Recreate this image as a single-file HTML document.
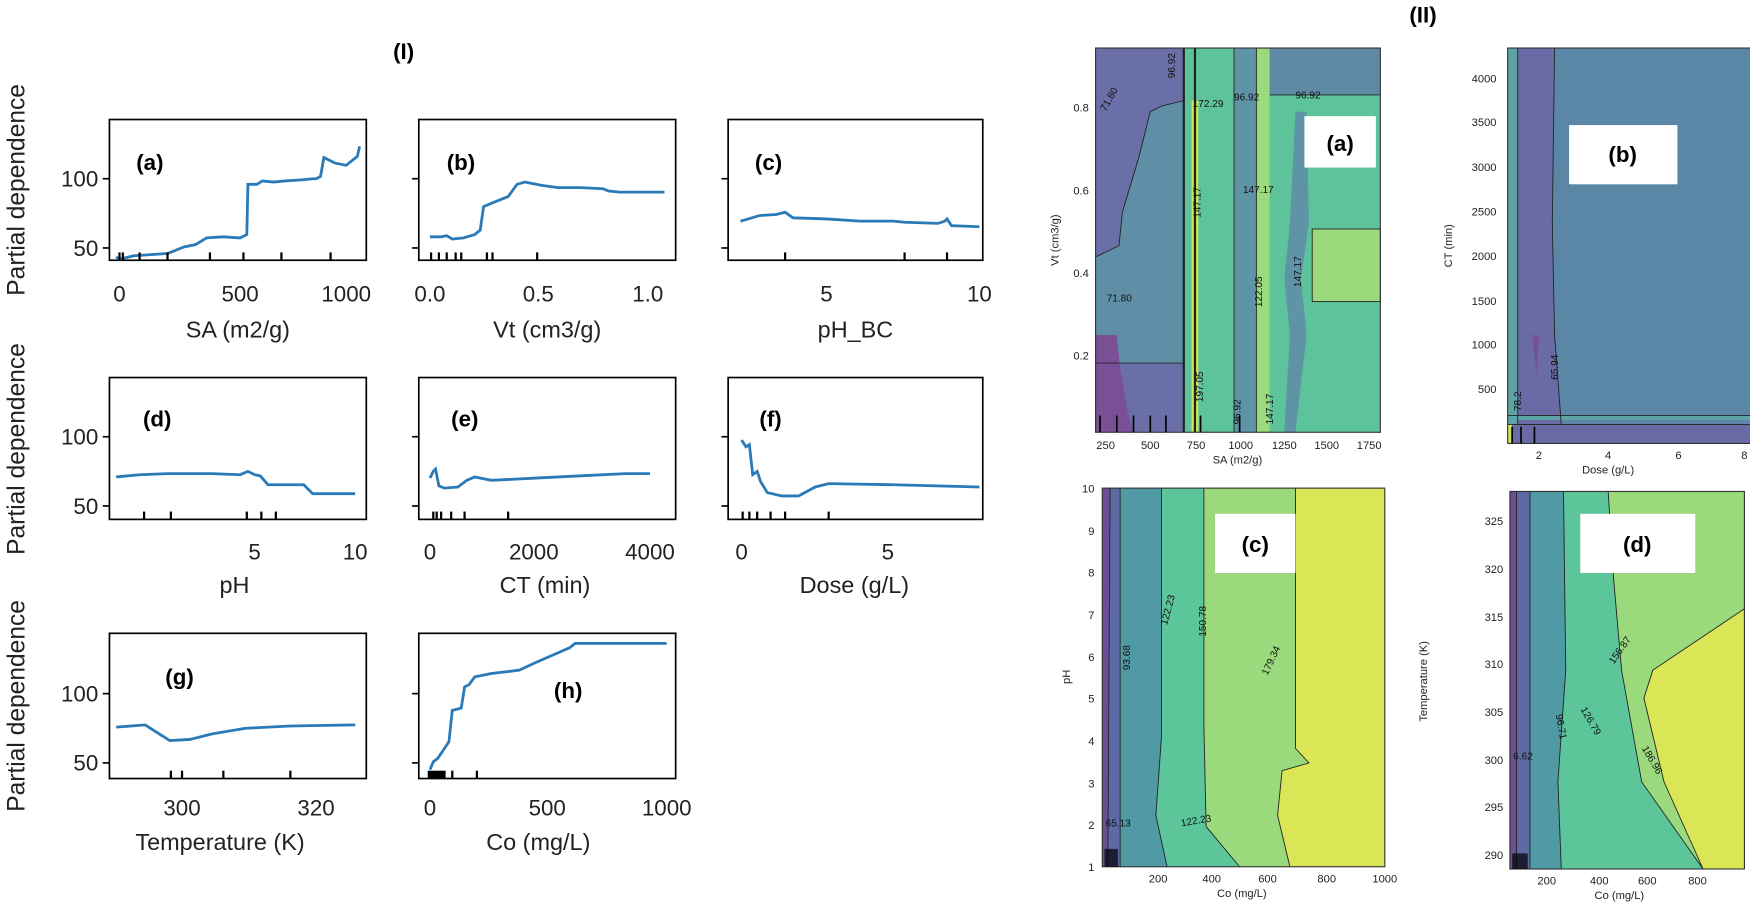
<!DOCTYPE html>
<html><head><meta charset="utf-8"><style>
body{margin:0;background:#fff;}
svg{display:block;font-family:"Liberation Sans",sans-serif;}
.tl{font-size:20px;fill:#222}
.xl{font-size:21px;fill:#222}
.yl{font-size:22px;fill:#222}
.pl{font-size:20px;font-weight:bold;fill:#000}
.st{font-size:10px;fill:#222}
.cl{font-size:9px;fill:#111}
.ln{fill:none;stroke:#2a7ab8;stroke-width:2.5}
.bx{fill:none;stroke:#000;stroke-width:1.5}
.cb{fill:none;stroke:#222;stroke-width:0.8}
</style></head><body>
<svg width="1750" height="911" viewBox="0 0 1567 815.6" preserveAspectRatio="none">
<text x="352" y="53" class="pl">(I)</text>
<text x="1262" y="20" class="pl">(II)</text>
<text transform="translate(22,170) rotate(-90)" text-anchor="middle" class="yl">Partial dependence</text>
<text transform="translate(22,402) rotate(-90)" text-anchor="middle" class="yl">Partial dependence</text>
<text transform="translate(22,632) rotate(-90)" text-anchor="middle" class="yl">Partial dependence</text>
<!-- ROW 1 -->
<g>
<rect x="98" y="107" width="230" height="126" class="bx"/>
<rect x="375" y="107" width="230" height="126" class="bx"/>
<rect x="652" y="107" width="228" height="126" class="bx"/>
<g stroke="#000" stroke-width="1.5"><line x1="92" y1="160" x2="98" y2="160"/><line x1="92" y1="222" x2="98" y2="222"/><line x1="369" y1="160" x2="375" y2="160"/><line x1="369" y1="222" x2="375" y2="222"/><line x1="646" y1="160" x2="652" y2="160"/><line x1="646" y1="222" x2="652" y2="222"/></g>
<text x="88" y="167" text-anchor="end" class="tl">100</text><text x="88" y="229" text-anchor="end" class="tl">50</text>
<text x="107" y="270" text-anchor="middle" class="tl">0</text><text x="215" y="270" text-anchor="middle" class="tl">500</text><text x="310" y="270" text-anchor="middle" class="tl">1000</text>
<text x="385" y="270" text-anchor="middle" class="tl">0.0</text><text x="482" y="270" text-anchor="middle" class="tl">0.5</text><text x="580" y="270" text-anchor="middle" class="tl">1.0</text>
<text x="740" y="270" text-anchor="middle" class="tl">5</text><text x="877" y="270" text-anchor="middle" class="tl">10</text>
<text x="213" y="302" text-anchor="middle" class="xl">SA (m2/g)</text>
<text x="490" y="302" text-anchor="middle" class="xl">Vt (cm3/g)</text>
<text x="766" y="302" text-anchor="middle" class="xl">pH_BC</text>
<text x="122" y="152" class="pl">(a)</text><text x="400" y="152" class="pl">(b)</text><text x="676" y="152" class="pl">(c)</text>
<polyline class="ln" points="104,230 107,232 120,229 150,227 155,225 165,221 175,219 180,216 185,213 200,212 215,213 221,210 222,165 230,165 235,162 245,163 255,162 270,161 280,160 283,160 287,158 290,141 300,146 310,148 315,144 320,140 322,131"/>
<polyline class="ln" points="385,212 395,212 400,211 405,214 415,213 425,210 430,206 433,185 440,182 445,180 455,176 463,165 470,163 485,166 500,168 520,168 540,169 545,171 555,172 570,172 595,172"/>
<polyline class="ln" points="663,198 670,196 680,193 695,192 703,190 710,195 740,196 770,198 800,198 810,199 840,200 846,198 848,196 852,202 877,203"/>
<g stroke="#000" stroke-width="2"><line x1="107" y1="226" x2="107" y2="233"/><line x1="110" y1="226" x2="110" y2="233"/><line x1="125" y1="226" x2="125" y2="233"/><line x1="150" y1="226" x2="150" y2="233"/><line x1="188" y1="226" x2="188" y2="233"/><line x1="218" y1="226" x2="218" y2="233"/><line x1="252" y1="226" x2="252" y2="233"/><line x1="296" y1="226" x2="296" y2="233"/>
<line x1="386" y1="226" x2="386" y2="233"/><line x1="393" y1="226" x2="393" y2="233"/><line x1="400" y1="226" x2="400" y2="233"/><line x1="408" y1="226" x2="408" y2="233"/><line x1="413" y1="226" x2="413" y2="233"/><line x1="436" y1="226" x2="436" y2="233"/><line x1="441" y1="226" x2="441" y2="233"/><line x1="481" y1="226" x2="481" y2="233"/>
<line x1="703" y1="226" x2="703" y2="233"/><line x1="810" y1="226" x2="810" y2="233"/><line x1="848" y1="226" x2="848" y2="233"/></g>
</g>
<!-- ROW 2 -->
<g>
<rect x="98" y="338" width="230" height="127" class="bx"/>
<rect x="375" y="338" width="230" height="127" class="bx"/>
<rect x="652" y="338" width="228" height="127" class="bx"/>
<g stroke="#000" stroke-width="1.5"><line x1="92" y1="391" x2="98" y2="391"/><line x1="92" y1="453" x2="98" y2="453"/><line x1="369" y1="391" x2="375" y2="391"/><line x1="369" y1="453" x2="375" y2="453"/><line x1="646" y1="391" x2="652" y2="391"/><line x1="646" y1="453" x2="652" y2="453"/></g>
<text x="88" y="398" text-anchor="end" class="tl">100</text><text x="88" y="460" text-anchor="end" class="tl">50</text>
<text x="228" y="501" text-anchor="middle" class="tl">5</text><text x="318" y="501" text-anchor="middle" class="tl">10</text>
<text x="385" y="501" text-anchor="middle" class="tl">0</text><text x="478" y="501" text-anchor="middle" class="tl">2000</text><text x="582" y="501" text-anchor="middle" class="tl">4000</text>
<text x="664" y="501" text-anchor="middle" class="tl">0</text><text x="795" y="501" text-anchor="middle" class="tl">5</text>
<text x="210" y="531" text-anchor="middle" class="xl">pH</text>
<text x="488" y="531" text-anchor="middle" class="xl">CT (min)</text>
<text x="765" y="531" text-anchor="middle" class="xl">Dose (g/L)</text>
<text x="128" y="382" class="pl">(d)</text><text x="404" y="382" class="pl">(e)</text><text x="680" y="382" class="pl">(f)</text>
<polyline class="ln" points="104,427 125,425 150,424 190,424 215,425 222,422 228,425 233,426 240,434 255,434 272,434 280,442 300,442 318,442"/>
<polyline class="ln" points="385,428 388,422 390,420 393,435 398,437 410,436 418,430 425,427 440,430 480,428 520,426 560,424 582,424"/>
<polyline class="ln" points="664,394 668,400 671,398 674,425 678,422 681,431 687,441 700,444 715,444 730,436 742,433 800,434 877,436"/>
<g stroke="#000" stroke-width="2"><line x1="129" y1="458" x2="129" y2="465"/><line x1="153" y1="458" x2="153" y2="465"/><line x1="221" y1="458" x2="221" y2="465"/><line x1="234" y1="458" x2="234" y2="465"/><line x1="247" y1="458" x2="247" y2="465"/>
<line x1="388" y1="458" x2="388" y2="465"/><line x1="391" y1="458" x2="391" y2="465"/><line x1="395" y1="458" x2="395" y2="465"/><line x1="404" y1="458" x2="404" y2="465"/><line x1="416" y1="458" x2="416" y2="465"/><line x1="455" y1="458" x2="455" y2="465"/>
<line x1="665" y1="458" x2="665" y2="465"/><line x1="671" y1="458" x2="671" y2="465"/><line x1="678" y1="458" x2="678" y2="465"/><line x1="690" y1="458" x2="690" y2="465"/><line x1="703" y1="458" x2="703" y2="465"/><line x1="742" y1="458" x2="742" y2="465"/></g>
</g>
<!-- ROW 3 -->
<g>
<rect x="98" y="567" width="230" height="130" class="bx"/>
<rect x="375" y="567" width="230" height="130" class="bx"/>
<g stroke="#000" stroke-width="1.5"><line x1="92" y1="621" x2="98" y2="621"/><line x1="92" y1="683" x2="98" y2="683"/><line x1="369" y1="621" x2="375" y2="621"/><line x1="369" y1="683" x2="375" y2="683"/></g>
<text x="88" y="628" text-anchor="end" class="tl">100</text><text x="88" y="690" text-anchor="end" class="tl">50</text>
<text x="163" y="730" text-anchor="middle" class="tl">300</text><text x="283" y="730" text-anchor="middle" class="tl">320</text>
<text x="385" y="730" text-anchor="middle" class="tl">0</text><text x="490" y="730" text-anchor="middle" class="tl">500</text><text x="597" y="730" text-anchor="middle" class="tl">1000</text>
<text x="197" y="761" text-anchor="middle" class="xl">Temperature (K)</text>
<text x="482" y="761" text-anchor="middle" class="xl">Co (mg/L)</text>
<text x="148" y="613" class="pl">(g)</text><text x="496" y="625" class="pl">(h)</text>
<polyline class="ln" points="104,651 130,649 152,663 170,662 190,657 220,652 260,650 318,649"/>
<polyline class="ln" points="385,689 388,682 392,679 398,670 402,664 405,636 413,634 416,615 420,613 425,606 440,603 465,600 480,593 510,580 515,576 597,576"/>
<g stroke="#000" stroke-width="2"><line x1="153" y1="690" x2="153" y2="697"/><line x1="163" y1="690" x2="163" y2="697"/><line x1="200" y1="690" x2="200" y2="697"/><line x1="260" y1="690" x2="260" y2="697"/></g>
<rect x="383" y="690" width="16" height="7" fill="#000"/>
<g stroke="#000" stroke-width="2"><line x1="405" y1="690" x2="405" y2="697"/><line x1="427" y1="690" x2="427" y2="697"/></g>
</g>

<!-- CONTOUR (a) -->
<g>
<rect x="981" y="43" width="255" height="344" fill="#5f8fa6"/>
<polygon points="981,43 1060,43 1060,90 1040,95 1030,100 1020,140 1005,190 1002,220 981,230" fill="#6a6fa8"/>
<polygon points="981,325 1060,325 1060,387 981,387" fill="#6a6fa8"/>
<polygon points="981,300 1000,300 1003,330 1010,370 1015,387 981,387" fill="#7a4f96"/>
<rect x="1060" y="43" width="45" height="344" fill="#5cc39b"/>
<rect x="1067" y="90" width="6" height="297" fill="#d0e45a"/>
<rect x="1105" y="43" width="20" height="344" fill="#5f93a6"/>
<rect x="1125" y="43" width="12" height="344" fill="#9bd97d"/>
<rect x="1137" y="85" width="99" height="302" fill="#5cc39b"/>
<polygon points="1137,85 1236,85 1236,43 1137,43" fill="#5f8aa6"/>
<polygon points="1160,100 1170,100 1172,200 1165,250 1170,300 1160,387 1150,387 1155,300 1150,250 1155,200" fill="#5f93a6"/>
<rect x="1175" y="205" width="61" height="65" fill="#9bd97d"/>
<g class="cb"><line x1="1060" y1="43" x2="1060" y2="387" stroke-width="2"/><line x1="1070" y1="43" x2="1070" y2="387" stroke-width="2"/><polyline points="981,230 1002,220 1005,190 1020,140 1030,100 1040,95 1060,90"/><line x1="981" y1="325" x2="1060" y2="325"/><polyline points="1105,43 1105,387"/><polyline points="1125,43 1125,387"/><polyline points="1137,85 1236,85"/><rect x="1175" y="205" width="61" height="65"/></g>
<rect x="981" y="43" width="255" height="344" fill="none" stroke="#333"/>
<rect x="1168" y="104" width="64" height="46" fill="#fff"/><text x="1200" y="135" text-anchor="middle" class="pl">(a)</text>
<g class="cl"><text x="990" y="100" transform="rotate(-60 990 100)">71.80</text><text x="1052" y="70" transform="rotate(-90 1052 70)">96.92</text><text x="1068" y="96">172.29</text><text x="1105" y="90">96.92</text><text x="1160" y="88">96.92</text><text x="1113" y="173">147.17</text><text x="1075" y="195" transform="rotate(-90 1075 195)">147.17</text><text x="991" y="270">71.80</text><text x="1130" y="275" transform="rotate(-90 1130 275)">122.05</text><text x="1165" y="257" transform="rotate(-90 1165 257)">147.17</text><text x="1077" y="360" transform="rotate(-90 1077 360)">197.05</text><text x="1111" y="380" transform="rotate(-90 1111 380)">96.92</text><text x="1140" y="380" transform="rotate(-90 1140 380)">147.17</text></g>
<g stroke="#000" stroke-width="1.5"><line x1="985" y1="372" x2="985" y2="387"/><line x1="1000" y1="372" x2="1000" y2="387"/><line x1="1015" y1="372" x2="1015" y2="387"/><line x1="1030" y1="372" x2="1030" y2="387"/><line x1="1044" y1="372" x2="1044" y2="387"/><line x1="1075" y1="372" x2="1075" y2="387"/><line x1="1110" y1="372" x2="1110" y2="387"/></g>
<g class="st" text-anchor="end"><text x="975" y="100">0.8</text><text x="975" y="174">0.6</text><text x="975" y="248">0.4</text><text x="975" y="322">0.2</text></g>
<g class="st" text-anchor="middle"><text x="990" y="402">250</text><text x="1030" y="402">500</text><text x="1071" y="402">750</text><text x="1111" y="402">1000</text><text x="1150" y="402">1250</text><text x="1188" y="402">1500</text><text x="1226" y="402">1750</text><text x="1108" y="415">SA (m2/g)</text></g>
<text transform="translate(948,215) rotate(-90)" text-anchor="middle" class="st">Vt (cm3/g)</text>
</g>

<!-- CONTOUR (b) -->
<g>
<rect x="1350" y="43" width="218" height="354" fill="#5b87a6"/>
<rect x="1350" y="43" width="9" height="354" fill="#5ea4a6"/>
<polygon points="1359,43 1392,43 1390,200 1392,300 1398,380 1359,380" fill="#6a6aa6"/>
<polygon points="1372,300 1378,300 1376,335" fill="#7a4f96"/>
<rect x="1350" y="380" width="218" height="17" fill="#6a6aa6"/>
<rect x="1350" y="380" width="4" height="17" fill="#d0e45a"/>
<rect x="1350" y="372" width="218" height="4" fill="#5ea4a6"/>
<g class="cb"><line x1="1359" y1="43" x2="1359" y2="380"/><polyline points="1392,43 1390,200 1392,300 1398,380"/><line x1="1350" y1="380" x2="1568" y2="380"/><line x1="1350" y1="372" x2="1568" y2="372"/></g>
<rect x="1350" y="43" width="218" height="354" fill="none" stroke="#333"/>
<rect x="1405" y="112" width="97" height="53" fill="#fff"/><text x="1453" y="145" text-anchor="middle" class="pl">(b)</text>
<g class="cl"><text x="1395" y="340" transform="rotate(-90 1395 340)">65.94</text><text x="1362" y="368" transform="rotate(-90 1362 368)">78.2</text></g>
<g stroke="#000" stroke-width="1.5"><line x1="1354" y1="382" x2="1354" y2="397"/><line x1="1362" y1="382" x2="1362" y2="397"/><line x1="1374" y1="382" x2="1374" y2="397"/></g>
<g class="st" text-anchor="end"><text x="1340" y="74">4000</text><text x="1340" y="113">3500</text><text x="1340" y="153">3000</text><text x="1340" y="193">2500</text><text x="1340" y="233">2000</text><text x="1340" y="273">1500</text><text x="1340" y="312">1000</text><text x="1340" y="352">500</text></g>
<g class="st" text-anchor="middle"><text x="1378" y="411">2</text><text x="1440" y="411">4</text><text x="1503" y="411">6</text><text x="1562" y="411">8</text><text x="1440" y="424">Dose (g/L)</text></g>
<text transform="translate(1300,220) rotate(-90)" text-anchor="middle" class="st">CT (min)</text>
</g>

<!-- CONTOUR (c) -->
<g>
<rect x="987" y="437" width="253" height="339" fill="#dbe657"/>
<polygon points="987,437 1160,437 1160,670 1172,683 1148,690 1144,730 1155,776 987,776" fill="#9bd97d"/>
<polygon points="987,437 1078,437 1078,650 1080,740 1110,776 987,776" fill="#5cc59a"/>
<polygon points="987,437 1040,437 1040,660 1035,730 1045,776 987,776" fill="#4f9aa5"/>
<polygon points="987,437 1003,437 1003,776 987,776" fill="#5d6aa6"/>
<polygon points="987,437 994,437 992,776 987,776" fill="#6b4f96"/>
<g class="cb"><polyline points="1160,437 1160,670 1172,683 1148,690 1144,730 1155,776"/><polyline points="1078,437 1078,650 1080,740 1110,776"/><polyline points="1040,437 1040,660 1035,730 1045,776"/><line x1="1003" y1="437" x2="1003" y2="776"/><line x1="994" y1="437" x2="992" y2="776"/></g>
<rect x="987" y="437" width="253" height="339" fill="none" stroke="#333"/>
<rect x="1088" y="460" width="72" height="53" fill="#fff"/><text x="1124" y="494" text-anchor="middle" class="pl">(c)</text>
<g class="cl"><text x="1012" y="600" transform="rotate(-90 1012 600)">93.68</text><text x="1045" y="560" transform="rotate(-75 1045 560)">122.23</text><text x="1080" y="570" transform="rotate(-90 1080 570)">150.78</text><text x="1135" y="605" transform="rotate(-65 1135 605)">179.34</text><text x="990" y="740">65.13</text><text x="1058" y="740" transform="rotate(-10 1058 740)">122.23</text></g>
<rect x="989" y="760" width="12" height="16" fill="#000" opacity="0.7"/>
<g class="st" text-anchor="end"><text x="980" y="441">10</text><text x="980" y="479">9</text><text x="980" y="516">8</text><text x="980" y="554">7</text><text x="980" y="592">6</text><text x="980" y="629">5</text><text x="980" y="667">4</text><text x="980" y="705">3</text><text x="980" y="742">2</text><text x="980" y="780">1</text></g>
<g class="st" text-anchor="middle"><text x="1037" y="790">200</text><text x="1085" y="790">400</text><text x="1135" y="790">600</text><text x="1188" y="790">800</text><text x="1240" y="790">1000</text><text x="1112" y="803">Co (mg/L)</text></g>
<text transform="translate(958,606) rotate(-90)" text-anchor="middle" class="st">pH</text>
</g>

<!-- CONTOUR (d) -->
<g>
<rect x="1352" y="440" width="210" height="338" fill="#9bd97d"/>
<polygon points="1352,440 1440,440 1445,520 1452,600 1470,700 1525,778 1352,778" fill="#5cc59a"/>
<polygon points="1562,545 1480,600 1472,625 1490,700 1525,778 1562,778" fill="#dbe657"/>
<polygon points="1352,440 1400,440 1402,600 1395,700 1398,778 1352,778" fill="#4f9aa5"/>
<polygon points="1352,440 1370,440 1370,778 1352,778" fill="#5d6aa6"/>
<polygon points="1352,440 1358,440 1358,778 1352,778" fill="#6b4f96"/>
<g class="cb"><polyline points="1440,440 1445,520 1452,600 1470,700 1525,778"/><polyline points="1562,545 1480,600 1472,625 1490,700 1525,778"/><polyline points="1400,440 1402,600 1395,700 1398,778"/><line x1="1370" y1="440" x2="1370" y2="778"/><line x1="1358" y1="440" x2="1358" y2="778"/></g>
<rect x="1352" y="440" width="210" height="338" fill="none" stroke="#333"/>
<rect x="1415" y="460" width="103" height="53" fill="#fff"/><text x="1466" y="494" text-anchor="middle" class="pl">(d)</text>
<g class="cl"><text x="1445" y="595" transform="rotate(-55 1445 595)">156.87</text><text x="1415" y="635" transform="rotate(60 1415 635)">126.79</text><text x="1393" y="640" transform="rotate(80 1393 640)">96.71</text><text x="1355" y="680">6.62</text><text x="1470" y="670" transform="rotate(60 1470 670)">186.96</text></g>
<rect x="1354" y="764" width="14" height="14" fill="#000" opacity="0.7"/>
<g class="st" text-anchor="end"><text x="1346" y="470">325</text><text x="1346" y="513">320</text><text x="1346" y="556">315</text><text x="1346" y="598">310</text><text x="1346" y="641">305</text><text x="1346" y="684">300</text><text x="1346" y="726">295</text><text x="1346" y="769">290</text></g>
<g class="st" text-anchor="middle"><text x="1385" y="792">200</text><text x="1432" y="792">400</text><text x="1475" y="792">600</text><text x="1520" y="792">800</text><text x="1450" y="805">Co (mg/L)</text></g>
<text transform="translate(1278,610) rotate(-90)" text-anchor="middle" class="st">Temperature (K)</text>
</g>
</svg>
</body></html>
